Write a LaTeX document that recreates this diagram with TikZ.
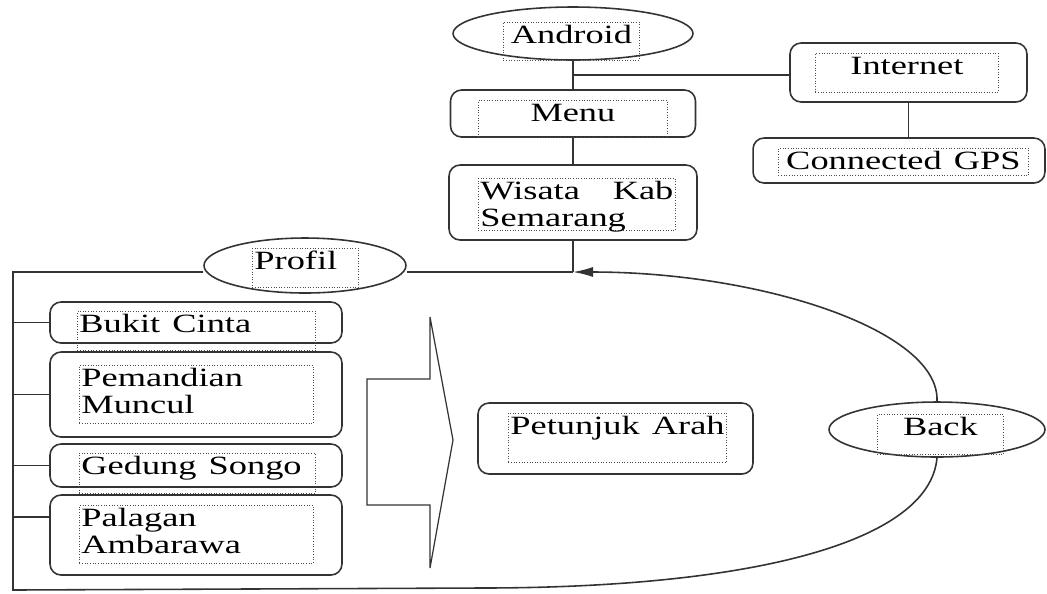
\documentclass[tikz,border=0pt]{standalone}
\usepackage{fontspec}
\setmainfont{Liberation Serif}
\usetikzlibrary{shapes.geometric,backgrounds,arrows.meta}

% horizontally widened text, as in the scanned figure
\newcommand{\wide}[1]{\scalebox{1.38}[1]{#1}}

\tikzset{
  rbox/.style={draw=black!80, line width=0.9pt, rounded corners=0.22cm, fill=white, inner sep=0pt},
  oval/.style={draw=black!80, line width=0.9pt, ellipse, fill=white, inner sep=0pt},
  tframe/.style={draw=black!70, densely dotted, line width=0.5pt, anchor=north west,
    inner xsep=0.04cm, inner ysep=0pt, text height=0.42cm},
  link/.style={draw=black!80, line width=0.9pt}
}

\begin{document}
\begin{tikzpicture}[x=0.02cm, y=-0.02cm, font=\fontsize{15}{15.5}\selectfont]

\useasboundingbox (0,0) rectangle (1047,593);

% Top column
\node [oval, minimum width=4.8cm, minimum height=1.06cm] (andro) at (573,33.5) {};
\node [tframe, text width=2.64cm, text depth=0.34cm, align=center] (andro-t) at (503,22) {\wide{Android}};

\node [rbox, minimum width=4.9cm, minimum height=0.94cm] (menu) at (573,113.5) {};
\node [tframe, text width=3.7cm, text depth=0.32cm, align=center] (menu-t) at (478,100) {\wide{Menu}};

\node [rbox, minimum width=4.96cm, minimum height=1.5cm] (wisata) at (573,202.5) {};
\node [tframe, text width=3.86cm, text depth=0.62cm, align=left] (wisata-t) at (478,178) {\wide{Wisata}\hfill\wide{Kab}\\\wide{Semarang}};

% Internet side
\node [rbox, minimum width=4.74cm, minimum height=1.18cm] (inet) at (908.5,72.5) {};
\node [tframe, text width=3.58cm, text depth=0.36cm, align=center] (inet-t) at (815,53) {\wide{Internet}};

\node [rbox, minimum width=5.84cm, minimum height=0.9cm] (gps) at (899,160.5) {};
\node [tframe, text width=4.92cm, text depth=0.12cm, align=center] (gps-t) at (778,148) {\wide{Connected GPS}};

% Profil and places
\node [oval, minimum width=4.04cm, minimum height=1.1cm] (profil) at (305,265.5) {};
\node [tframe, text width=2.04cm, text depth=0.36cm, align=left] (profil-t) at (252,248) {\wide{Profil}};

\node [rbox, minimum width=5.84cm, minimum height=0.82cm] (bukit) at (196,322.5) {};
\node [tframe, text width=4.68cm, text depth=0.36cm, align=left] (bukit-t) at (77,311) {\wide{Bukit Cinta}};

\node [rbox, minimum width=5.84cm, minimum height=1.7cm] (pemandian) at (196,394.5) {};
\node [tframe, text width=4.6cm, text depth=0.74cm, align=left] (pemandian-t) at (79,365) {\wide{Pemandian}\\\wide{Muncul}};

\node [rbox, minimum width=5.84cm, minimum height=0.86cm] (gedung) at (196,465.5) {};
\node [tframe, text width=4.64cm, text depth=0.38cm, align=left] (gedung-t) at (79,453) {\wide{Gedung Songo}};

\node [rbox, minimum width=5.84cm, minimum height=1.6cm] (palagan) at (196,535) {};
\node [tframe, text width=4.6cm, text depth=0.74cm, align=left] (palagan-t) at (79,505) {\wide{Palagan}\\\wide{Ambarawa}};

% Direction and back
\node [rbox, minimum width=5.5cm, minimum height=1.42cm] (arah) at (615.5,438.5) {};
\node [tframe, text width=4.28cm, text depth=0.56cm, align=left] (arah-t) at (508,413) {\wide{Petunjuk Arah}};

\node [oval, minimum width=4.32cm, minimum height=1.1cm] (back) at (937,429.5) {};
\node [tframe, text width=2.44cm, text depth=0.38cm, align=center] (back-t) at (877,414) {\wide{Back}};

% Big arrow
\draw [link, line width=0.7pt] (367,379) -- (430,379) -- (430,317) -- (453,440)
  -- (430,568) -- (430,505) -- (367,505) -- cycle;

\coordinate (br) at (573,75);
\coordinate (jn) at (573,272);
\coordinate (tl) at (13,272);
\coordinate (bl) at (13,590);
\coordinate (bm) at (480,588);

\begin{scope}[on background layer]
\draw [link] (andro) -- (menu);
\draw [link] (br) -- (br -| inet.west);
\draw [link] (inet.south) -- (inet.south |- gps.north);
\draw [link] (menu) -- (wisata);
\draw [link] (wisata.south) -- (jn);
\draw [link] (jn) -- (profil.east |- jn);
\draw [link] (profil.west |- jn) -- (tl) -- (bl) -- (bm)
  .. controls (760,588) and (930,540) .. (back.south);
\draw [link, -{Latex[length=0.4cm,width=0.2cm]}] (back.north)
  .. controls (940,330) and (760,272) .. (jn);
\foreach \n in {bukit, pemandian, gedung}
  \draw [link] (\n.west) -- (\n.west -| tl);
\draw [link] ([yshift=0.36cm]palagan.west) -- ([yshift=0.36cm]palagan.west -| tl);
\end{scope}

\end{tikzpicture}
\end{document}
